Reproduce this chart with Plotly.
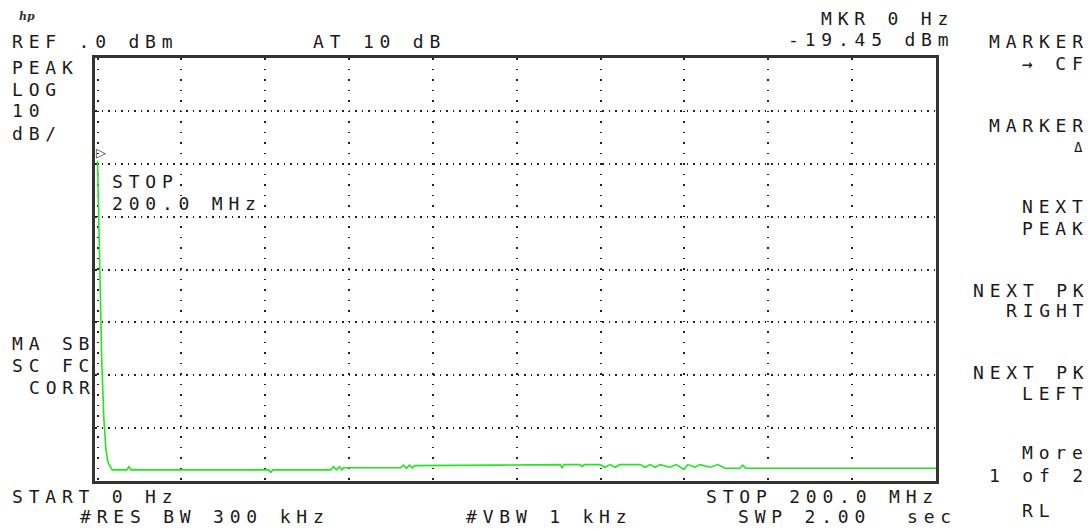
import plotly.graph_objects as go

# trace: frequency (MHz) and level (dBm)
freq_mhz = [0.0, 0.5, 1.0, 1.5, 2.0, 2.5, 3.0, 3.5,
            7.0, 7.5, 8.0, 40.8, 41.3, 41.8,
            55.6, 56.3, 57.0, 57.7, 58.3, 58.7,
            72.3, 73.0, 73.7, 74.4, 75.1, 75.6, 96.1,
            110.4, 110.8, 111.3, 115.1, 115.6, 116.1,
            119.9, 121.0, 122.3, 123.5, 124.6,
            129.4, 130.6, 131.8, 133.0, 134.2, 136.5, 138.0,
            139.9, 140.8, 142.5, 143.7, 146.1, 148.0, 149.6,
            153.2, 153.9, 154.6, 200.0]
level_dbm = [-19.45, -38.0, -57.0, -68.0, -74.0, -76.5, -77.3, -77.9,
             -77.9, -77.3, -77.9, -77.9, -78.4, -77.9,
             -77.9, -77.3, -77.9, -77.3, -77.9, -77.5,
             -77.5, -77.0, -77.6, -77.0, -77.5, -77.1, -77.0,
             -76.9, -77.5, -76.9, -76.9, -77.3, -76.9,
             -76.9, -77.4, -76.9, -77.4, -76.9,
             -76.9, -77.4, -76.9, -77.4, -76.9, -77.4, -76.9,
             -77.8, -76.9, -77.4, -76.9, -77.4, -76.9, -77.6,
             -77.6, -77.0, -77.6, -77.6]

marker_freq = 0.0
marker_level = -19.45

start_mhz, stop_mhz = 0, 200
ref_dbm, db_div, n_div = 0, 10, 8

# screen layout (pixels of the 1092x529 window); the page body adds an 8px margin
PAGE = 8
W, H = 1092 - PAGE, 529 - PAGE
L, R, T, B = 95, 936, 58, 481
FONT = "DejaVu Sans Mono"
INK = "#1a1a1a"
SIZE = 18
LS = 5.8


def px(x):
    return (x - L) / (R - L)


def py(y):
    return (B - y) / (B - T)


def txt(s, x, y, anchor="left", size=SIZE, ls=LS):
    s = s.replace(" ", "\u00a0")
    if anchor == "right":
        x += ls
    return dict(text=f"<span style='letter-spacing:{ls}px'>{s}</span>",
                x=px(x), y=py(y), xref="paper", yref="paper",
                xanchor=anchor, yanchor="middle", align=anchor,
                showarrow=False, borderpad=0, borderwidth=0,
                font=dict(family=FONT, size=size, color=INK))


labels = [
    ("REF .0 dBm", 12, 41, "left"),
    ("AT 10 dB", 313, 41, "left"),
    ("MKR 0 Hz", 948, 18, "right"),
    ("-19.45 dBm", 948, 40, "right"),
    ("PEAK", 12, 67, "left"),
    ("LOG", 12, 89, "left"),
    ("10", 12, 111, "left"),
    ("dB/", 12, 133, "left"),
    ("MA SB", 12, 343, "left"),
    ("SC FC", 12, 365, "left"),
    ("CORR", 90, 387, "right"),
    ("STOP", 112, 181, "left"),
    ("200.0 MHz", 112, 203, "left"),
    ("START 0 Hz", 12, 496, "left"),
    ("#RES BW 300 kHz", 80, 517, "left"),
    ("#VBW 1 kHz", 466, 517, "left"),
    ("STOP 200.0 MHz", 933, 496, "right"),
    ("SWP 2.00", 738, 517, "left"),
    ("sec", 907, 517, "left"),
    # softkeys
    ("MARKER", 1083, 42, "right"),
    ("→ CF", 1083, 63, "right"),
    ("MARKER", 1083, 125, "right"),
    ("NEXT", 1083, 207, "right"),
    ("PEAK", 1083, 228, "right"),
    ("NEXT PK", 1083, 290, "right"),
    ("RIGHT", 1083, 310, "right"),
    ("NEXT PK", 1083, 372, "right"),
    ("LEFT", 1083, 393, "right"),
    ("More", 1083, 452, "right"),
    ("1 of 2", 1083, 475, "right"),
    ("RL", 1022, 510, "left"),
]

annotations = [txt(*lab) for lab in labels]
annotations.append(txt("Δ", 1083, 147, "right", size=14, ls=0))
# hp logo
annotations.append(dict(text="<i><b>hp</b></i>", x=px(27), y=py(17),
                        xref="paper", yref="paper", showarrow=False,
                        xanchor="center", yanchor="middle",
                        borderpad=0, borderwidth=0,
                        font=dict(family="DejaVu Serif", size=11, color="#333")))
# marker symbol sitting on the trace
annotations.append(dict(text="▷", x=marker_freq, y=marker_level, xref="x", yref="y",
                        xanchor="left", yanchor="bottom", showarrow=False,
                        borderpad=0, borderwidth=0, xshift=-2, yshift=1,
                        font=dict(family="DejaVu Sans", size=13, color="#333")))

fig = go.Figure()
fig.add_trace(go.Scatter(x=freq_mhz, y=level_dbm, mode="lines",
                         line=dict(color="#22e622", width=1.6),
                         hoverinfo="x+y", showlegend=False))

fig.update_layout(
    width=W, height=H,
    margin=dict(l=L - PAGE, r=W + PAGE - R, t=T - PAGE, b=H + PAGE - B),
    paper_bgcolor="white", plot_bgcolor="white",
    annotations=annotations,
    xaxis=dict(range=[start_mhz - 0.6, stop_mhz], tick0=0, dtick=(stop_mhz - start_mhz) / 10,
               showticklabels=False, ticks="", zeroline=False,
               showgrid=True, gridcolor="#222", gridwidth=1.5, griddash="1.5px,9px",
               showline=True, linecolor="#333", linewidth=3, mirror=True),
    yaxis=dict(range=[ref_dbm - db_div * n_div, ref_dbm], tick0=0, dtick=db_div,
               showticklabels=False, ticks="", zeroline=False,
               showgrid=True, gridcolor="#222", gridwidth=1.5, griddash="1.5px,5px",
               showline=True, linecolor="#333", linewidth=3, mirror=True),
)

fig.write_html("out.html")
